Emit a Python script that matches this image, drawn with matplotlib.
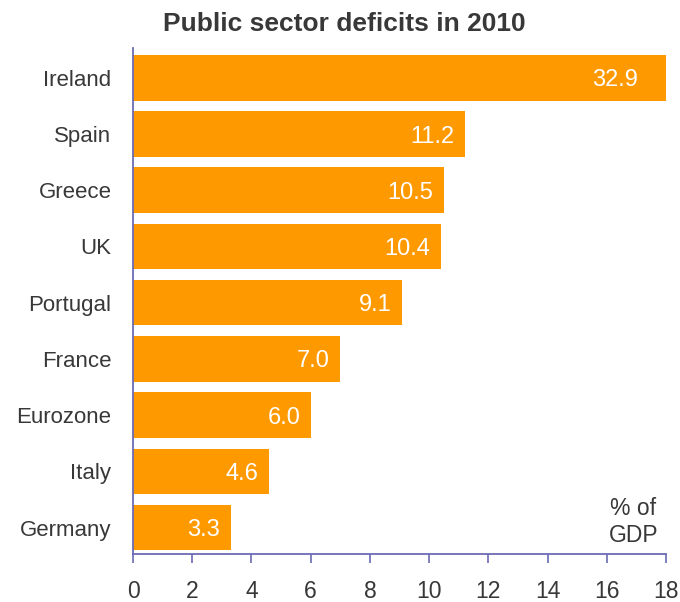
import matplotlib
matplotlib.use("Agg")
import matplotlib.pyplot as plt

plt.rcParams['font.family'] = ['Liberation Sans', 'DejaVu Sans']

countries = ["Germany", "Italy", "Eurozone", "France", "Portugal", "UK", "Greece", "Spain", "Ireland"]
deficits = [3.3, 4.6, 6.0, 7.0, 9.1, 10.4, 10.5, 11.2, 32.9]
x_ticks = [0, 2, 4, 6, 8, 10, 12, 14, 16, 18]

BAR = "#FF9900"
AXIS = "#6B6BB5"
TEXT = "#383838"
XMAX = 18

fig = plt.figure(figsize=(6.8, 6.02), dpi=100)
ax = fig.add_axes([133 / 680, 1 - 554 / 602, 533 / 680, 506 / 602])

pos = list(range(len(countries)))
ax.barh(pos, deficits, height=0.81, color=BAR, zorder=2)

ax.set_xlim(0, XMAX)
ax.set_ylim(-0.47, 8.53)

for y, v in zip(pos, deficits):
    ax.annotate(f"{v:.1f}", xy=(min(v, XMAX - 0.6), y), xytext=(-7.5, 0),
                textcoords="offset points", ha="right", va="center_baseline",
                color="white", fontsize=17)

ax.set_yticks(pos)
ax.set_yticklabels(countries, fontsize=16, color=TEXT)
ax.tick_params(axis="y", length=0, pad=15.5)

ax.set_xticks(x_ticks)
ax.set_xticklabels([str(t) for t in x_ticks], fontsize=16.5, color=TEXT)
ax.tick_params(axis="x", direction="out", length=6.5, width=1.2, color=AXIS, pad=12.5)

for side in ("top", "right"):
    ax.spines[side].set_visible(False)
for side in ("left", "bottom"):
    ax.spines[side].set_color(AXIS)
    ax.spines[side].set_linewidth(1.3)

ax.text(16.9, 0.1, "% of\nGDP", ha="center", va="center", fontsize=16.5,
        color=TEXT, linespacing=1.25)

fig.text(0.506, 1 - 24 / 602, "Public sector deficits in 2010", ha="center",
         va="center", fontsize=19, fontweight="bold", color=TEXT)

fig.savefig("out.png", dpi=100)
